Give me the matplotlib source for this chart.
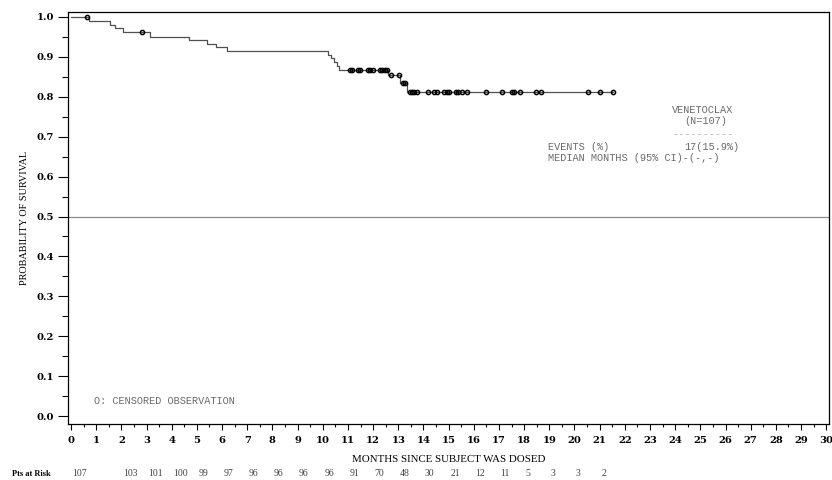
import matplotlib
matplotlib.use('Agg')
import matplotlib.pyplot as plt
import matplotlib.transforms as mtransforms
import numpy as np
from matplotlib.ticker import MultipleLocator

# step points of the KM curve
event_months = [0.73, 1.55, 1.75, 2.08, 3.14, 4.70, 5.39, 5.76, 6.18,
                10.20, 10.33, 10.45, 10.55, 10.65, 12.60, 13.07, 13.35]
event_surv = [0.990, 0.981, 0.972, 0.963, 0.951, 0.942, 0.933, 0.924, 0.915,
              0.905, 0.896, 0.887, 0.878, 0.868, 0.855, 0.835, 0.813]
censor_months = [0.64, 2.81,
                 11.08, 11.15, 11.39, 11.48, 11.81, 11.88, 12.01, 12.28, 12.37, 12.48, 12.54,
                 12.70, 13.03, 13.20, 13.27,
                 13.47, 13.56, 13.64, 13.73, 14.20, 14.40, 14.53, 14.82, 14.93, 15.00,
                 15.28, 15.39, 15.52, 15.72, 16.48, 17.11, 17.51, 17.61, 17.84, 18.47,
                 18.67, 20.55, 21.02, 21.51]
risk_months = list(range(22))
risk_counts = ['107', '', '103', '101', '100', '99', '97', '96', '96', '96', '96',
               '91', '70', '48', '30', '21', '12', '11', '5', '3', '3', '2']

legend_font = 'Liberation Mono'
legend_col = '#6b6b6b'
serif = 'DejaVu Serif'

fig = plt.figure(figsize=(8.32, 4.8), dpi=100)
ax = fig.add_axes([68 / 832, 1 - 424 / 480, (829 - 68) / 832, (424 - 12) / 480])

# curve
xs = [0] + event_months + [max(censor_months)]
ys = [1.0] + event_surv + [event_surv[-1]]
ax.step(xs, ys, where='post', color='#505050', lw=0.9)

# censored marks sit on the curve
ev = np.array(event_months)
sv = np.array([1.0] + event_surv)
cy = sv[np.searchsorted(ev, censor_months, side='right')]
ax.plot(censor_months, cy, 'o', ms=3.0, mfc='none', mec='black', mew=1.1)

ax.axhline(0.5, color='#8c8c8c', lw=0.9)

ax.set_xlim(-0.12, 30.11)
ax.set_ylim(-0.02, 1.0125)
ax.xaxis.set_major_locator(MultipleLocator(1))
ax.xaxis.set_minor_locator(MultipleLocator(0.5))
ax.yaxis.set_minor_locator(MultipleLocator(0.05))
ax.set_yticks(np.arange(0, 1.01, 0.1))
ax.set_yticklabels(['%.1f' % v for v in np.arange(0, 1.01, 0.1)])
ax.tick_params(axis='x', which='major', length=4.5, width=0.8, pad=4)
ax.tick_params(axis='x', which='minor', length=2.5, width=0.8)
ax.tick_params(axis='y', which='major', length=7, width=0.8, pad=3)
ax.tick_params(axis='y', which='minor', length=4, width=0.8)
for lab in ax.get_xticklabels() + ax.get_yticklabels():
    lab.set_fontfamily(serif)
    lab.set_fontweight('bold')
    lab.set_fontsize(7.2)
for sp in ax.spines.values():
    sp.set_linewidth(0.9)

ax.set_xlabel('MONTHS SINCE SUBJECT WAS DOSED', fontfamily='Liberation Serif', fontsize=7.8, va='center')
ax.xaxis.set_label_coords(0.5, (424 - 460) / 412)
ax.set_ylabel('PROBABILITY OF SURVIVAL', fontfamily='Liberation Serif', fontsize=7.4, va='center')
ax.yaxis.set_label_coords((25 - 68) / 761, 0.5)

# legend block
kw = dict(fontfamily=legend_font, fontsize=7.4, color=legend_col, va='center')
fig.text(672 / 832, 1 - 110 / 480, 'VENETOCLAX', **kw)
fig.text(684 / 832, 1 - 121 / 480, '(N=107)', **kw)
fig.text(672 / 832, 1 - 134 / 480, '----------', fontfamily=legend_font, fontsize=7.4,
         color='#b0b0b0', va='center')
fig.text(548 / 832, 1 - 147 / 480, 'EVENTS (%)', **kw)
fig.text(684 / 832, 1 - 147 / 480, '17(15.9%)', **kw)
fig.text(548 / 832, 1 - 158 / 480, 'MEDIAN MONTHS (95% CI)-(-,-)', **kw)
fig.text(94 / 832, 1 - 401 / 480, 'O: CENSORED OBSERVATION', **kw)

# patients at risk row
fig.text(12 / 832, 1 - 474 / 480, 'Pts at Risk', fontfamily='Liberation Serif', fontweight='bold',
         fontsize=6, va='center')
trans = mtransforms.blended_transform_factory(ax.transData, fig.transFigure)
for m, c in zip(risk_months, risk_counts):
    ax.text(m + 0.06, 1 - 474 / 480, c, transform=trans, fontfamily='Liberation Serif',
            fontsize=7, color='#444444', ha='left', va='center')

fig.savefig('out.png', dpi=100)
